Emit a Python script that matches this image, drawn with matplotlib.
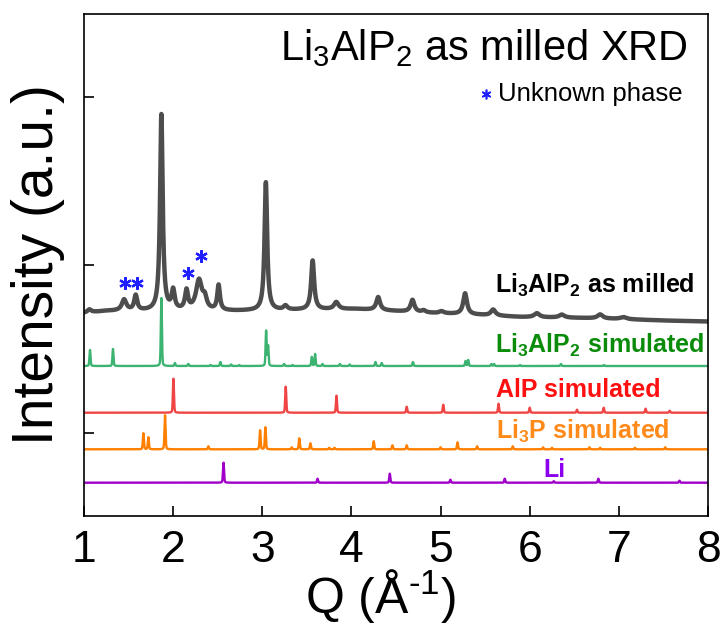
import numpy as np
import matplotlib
matplotlib.use("Agg")
import matplotlib.pyplot as plt

plt.rcParams['font.family'] = ['Liberation Sans', 'DejaVu Sans']
plt.rcParams['mathtext.fontset'] = 'custom'
plt.rcParams['mathtext.rm'] = 'Liberation Sans'
plt.rcParams['mathtext.it'] = 'Liberation Sans:italic'
plt.rcParams['mathtext.bf'] = 'Liberation Sans:bold'
plt.rcParams['mathtext.default'] = 'regular'

# ---- as-milled pattern: background points + peaks (Q in 1/A, intensity in a.u.)
milled_bg_q = [1.0, 1.25, 2.7, 4.05, 4.9, 5.45, 5.9, 6.6, 7.0, 7.5, 8.0]
milled_bg = [203, 205, 205, 207, 203, 201, 199, 198, 197, 195.5, 194.5]
milled_pos = [1.06, 1.45, 1.58, 1.868, 2.00, 2.15, 2.29, 2.355, 2.51, 3.04, 3.26,
              3.565, 3.83, 4.30, 4.685, 4.81, 5.01, 5.275, 5.59, 6.08, 6.36, 6.79, 7.05]
milled_hgt = [3, 11, 15, 196, 19, 19, 30, 10, 25, 128, 4,
              49, 7, 13, 12, 2, 2, 21, 6, 4, 3, 4, 2]
milled_fwhm = [0.05, 0.06, 0.04, 0.035, 0.04, 0.04, 0.08, 0.05, 0.035, 0.035, 0.05,
               0.04, 0.06, 0.05, 0.05, 0.05, 0.06, 0.05, 0.06, 0.07, 0.07, 0.07, 0.08]

# ---- simulated patterns: peak positions and heights
li3alp2_pos = [1.067, 1.325, 1.868, 2.02, 2.17, 2.42, 2.53, 2.65, 2.74, 3.043, 3.065,
               3.245, 3.34, 3.555, 3.592, 3.675, 3.87, 3.98, 4.27, 4.34, 4.69, 5.28,
               5.31, 5.57, 5.60, 5.89, 6.35, 6.83]
li3alp2_hgt = [16, 17, 68, 3, 2, 1, 4, 1.5, 1, 35, 20,
               2, 1, 9, 12, 2, 2, 1.5, 4, 3, 4, 5,
               6, 2, 2, 1, 2, 1]

alp_pos = [2.003, 3.263, 3.832, 4.62, 5.03, 5.65, 6.00, 6.53, 6.83, 7.30, 7.57]
alp_hgt = [34, 26, 17, 6, 8, 9, 5, 3, 5, 4, 2]

li3p_pos = [1.666, 1.722, 1.909, 2.395, 2.975, 3.035, 3.33, 3.415, 3.54, 3.75, 3.81,
            4.25, 4.46, 4.62, 5.00, 5.19, 5.41, 5.81, 6.15, 6.25, 6.67, 6.79, 7.18, 7.52]
li3p_hgt = [16, 12, 34, 3, 19, 22, 2, 11, 6, 1.5, 1.5,
            8, 4, 4, 2, 7, 3, 3, 2, 1.5, 2, 1.5, 1.5, 2]

li_pos = [2.565, 3.62, 4.43, 5.11, 5.72, 6.27, 6.77, 7.68]
li_hgt = [20, 4, 9, 3, 4, 1.5, 4, 2]

# unknown-phase markers on the as-milled curve
star_q = [1.455, 1.598, 2.167, 2.309]
star_y = [233, 233, 243, 260]

# vertical offsets of the stacked simulated patterns
offsets = {'li3alp2': 150, 'alp': 103.3, 'li3p': 66.7, 'li': 33.3}

q = np.linspace(1.0, 8.0, 7001)


def lorentz(x, pos, hgt, fwhm):
    out = np.zeros_like(x)
    for p, h, w in zip(pos, hgt, fwhm):
        out += h / (1.0 + ((x - p) / (w / 2.0)) ** 2)
    return out


def sim_pattern(x, pos, hgt, fwhm=0.014):
    out = np.zeros_like(x)
    for p, h in zip(pos, hgt):
        g = np.exp(-4 * np.log(2) * ((x - p) / fwhm) ** 2)
        l = 1.0 / (1.0 + ((x - p) / (fwhm / 2.0)) ** 2)
        out += h * (0.7 * g + 0.3 * l)
    return out


milled = np.interp(q, milled_bg_q, milled_bg) + lorentz(q, milled_pos, milled_hgt, milled_fwhm)

fig = plt.figure(figsize=(7.24, 6.27), dpi=100)
ax = fig.add_axes([84 / 724, 111 / 627, 624 / 724, 502 / 627])

ax.plot(q, offsets['li'] + sim_pattern(q, li_pos, li_hgt), color='#a000c8', lw=1.7)
ax.plot(q, offsets['li3p'] + sim_pattern(q, li3p_pos, li3p_hgt), color='#ff8000', lw=1.7)
ax.plot(q, offsets['alp'] + sim_pattern(q, alp_pos, alp_hgt), color='#f04545', lw=1.7)
ax.plot(q, offsets['li3alp2'] + sim_pattern(q, li3alp2_pos, li3alp2_hgt), color='#3cb371', lw=1.7)
ax.plot(q, milled, color='#4d4d4d', lw=3.2, solid_joinstyle='round')

ax.plot(star_q, star_y, ls='none', marker=(6, 2, 0), ms=9, mew=1.6, color='#1f1fff')

# labels for each pattern
lab = dict(fontsize=18, fontweight='bold', ha='left', va='baseline')
ax.text(5.61, 223, 'Li$_3$AlP$_2$ as milled', color='black', **lab)
ax.text(5.61, 163, 'Li$_3$AlP$_2$ simulated', color='#0a8c0a', **lab)
ax.text(5.62, 119, 'AlP simulated', color='#ff1010', **lab)
ax.text(5.62, 77, 'Li$_3$P simulated', color='#ff8a1a', **lab)
ax.text(6.15, 39, 'Li', color='#8c00f0', **lab)

ax.text(7.77, 456, 'Li$_3$AlP$_2$ as milled XRD', fontsize=30, ha='right', va='baseline')
ax.text(7.72, 415, 'Unknown phase', fontsize=18.5, ha='right', va='baseline')
ax.plot([5.51], [422], ls='none', marker=(6, 2, 0), ms=7, mew=1.2, color='#1f1fff')

ax.set_xlim(1, 8)
ax.set_ylim(0, 502)
ax.set_xticks(range(1, 9))
ax.set_yticks([83, 251, 419])
ax.set_yticklabels([])
ax.tick_params(axis='x', direction='in', length=7, width=1.2, labelsize=32, pad=10)
ax.tick_params(axis='y', direction='in', length=7, width=1.2)
for s in ax.spines.values():
    s.set_linewidth(1.2)

ax.set_xlabel('Q (Å$^{\\text{-}1}$)', fontsize=36)
ax.xaxis.set_label_coords(0.475, -0.193, transform=ax.transAxes)
ax.xaxis.label.set_va('baseline')
ax.set_ylabel('Intensity (a.u.)', fontsize=41)
ax.yaxis.set_label_coords(-0.03, 0.5)

fig.savefig('out.png', dpi=100)
